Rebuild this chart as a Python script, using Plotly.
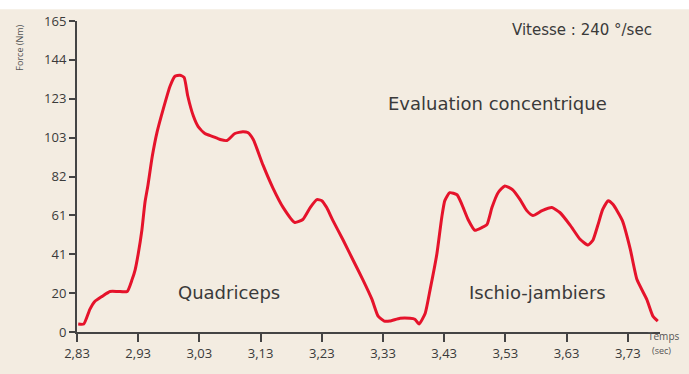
import plotly.graph_objects as go

# Torque trace over time (seconds, N·m)
temps = [2.832, 2.841, 2.851, 2.859, 2.871, 2.884, 2.897, 2.912, 2.920, 2.925,
         2.930, 2.936, 2.941, 2.946, 2.953, 2.961, 2.971, 2.982, 2.990, 2.998,
         3.005, 3.011, 3.020, 3.028, 3.039, 3.052, 3.064, 3.075, 3.088, 3.101,
         3.109, 3.118, 3.134, 3.150, 3.167, 3.186, 3.199, 3.211, 3.222, 3.230,
         3.238, 3.248, 3.265, 3.281, 3.297, 3.312, 3.322, 3.332, 3.341, 3.358,
         3.374, 3.382, 3.389, 3.399, 3.407, 3.418, 3.426, 3.431, 3.439, 3.451,
         3.459, 3.469, 3.480, 3.492, 3.500, 3.508, 3.518, 3.529, 3.542, 3.554,
         3.565, 3.575, 3.590, 3.606, 3.619, 3.636, 3.652, 3.665, 3.673, 3.681,
         3.689, 3.698, 3.706, 3.721, 3.734, 3.745, 3.761, 3.771, 3.779]
force = [4.2, 4.2, 12.0, 16.2, 18.9, 21.5, 21.5, 21.5, 27.8, 33.0,
         41.4, 54.0, 68.6, 78.0, 93.2, 106.3, 118.4, 130.4, 135.7, 136.2,
         135.1, 125.2, 114.7, 109.0, 105.3, 103.7, 102.1, 101.6, 105.3, 106.3,
         105.8, 102.1, 88.5, 76.5, 66.0, 58.1, 59.7, 66.0, 70.2, 69.7,
         66.0, 59.2, 48.7, 38.2, 27.8, 17.3, 8.4, 5.8, 5.8, 7.3,
         7.3, 6.8, 4.2, 10.0, 22.5, 41.4, 60.8, 69.7, 73.9, 72.8,
         67.6, 59.7, 54.0, 55.5, 57.1, 66.0, 73.9, 77.5, 75.4, 70.2,
         64.4, 61.8, 64.4, 66.0, 63.4, 56.6, 49.2, 46.1, 48.7, 56.6,
         65.0, 69.7, 67.6, 59.2, 44.0, 27.8, 17.3, 8.4, 5.8]

x_ticks = [2.83, 2.93, 3.03, 3.13, 3.23, 3.33, 3.43, 3.53, 3.63, 3.73]
x_tick_labels = ["2,83", "2,93", "3,03", "3,13", "3,23",
                 "3,33", "3,43", "3,53", "3,63", "3,73"]
y_tick_labels = ["0", "20", "41", "61", "82", "103", "123", "144", "165"]
y_max = 165

BG = "#f3ece1"
INK = "#3a3a3a"
RED = "#e5132b"
FONT = "Open Sans"
LABEL_FONT = "DejaVu Sans"

W, H = 689, 374
ML, MR, MT, MB = 77, 29, 21, 38
PW, PH = W - ML - MR, H - MT - MB


def px(x):
    return (x - ML) / PW


def py(y):
    return (H - MB - y) / PH


fig = go.Figure()
fig.add_trace(go.Scatter(
    x=temps, y=force, mode="lines",
    line=dict(color=RED, width=3, shape="spline", smoothing=0.5),
    hoverinfo="skip", showlegend=False,
))

y_ticks = [y_max * i / (len(y_tick_labels) - 1) for i in range(len(y_tick_labels))]

fig.update_layout(
    width=W, height=H,
    margin=dict(l=ML, r=MR, t=MT, b=MB, pad=0),
    paper_bgcolor=BG, plot_bgcolor=BG,
    font=dict(family=FONT, color=INK),
    xaxis=dict(
        range=[2.83, 2.83 + 0.1 * PW / 61.2],
        tickvals=x_ticks, ticktext=x_tick_labels,
        showgrid=False, zeroline=False,
        showline=True, linecolor="#444", linewidth=2,
        ticks="outside", ticklen=8, tickwidth=1.5, tickcolor="#444",
        tickfont=dict(size=13, color=INK, family=FONT),
    ),
    yaxis=dict(
        range=[0, y_max],
        tickvals=y_ticks, ticktext=y_tick_labels,
        showgrid=False, zeroline=False,
        showline=True, linecolor="#444", linewidth=2,
        ticks="outside", ticklen=6, tickwidth=1.5, tickcolor="#444",
        tickfont=dict(size=13, color=INK, family=FONT),
    ),
    shapes=[dict(
        type="rect", xref="paper", yref="paper",
        x0=px(-5), x1=px(W + 5), y0=py(9), y1=py(-5),
        fillcolor="white", line=dict(width=0), layer="below",
    )],
)

notes = [
    ("Vitesse : 240 °/sec", 582, 30, 15),
    ("Evaluation concentrique", 497, 105, 18),
    ("Quadriceps", 229, 296, 18),
    ("Ischio-jambiers", 537, 296, 18),
]
for text, x, y, size in notes:
    fig.add_annotation(
        x=px(x), y=py(y), xref="paper", yref="paper", text=text,
        showarrow=False, xanchor="center", yanchor="middle",
        font=dict(size=size, color=INK, family=LABEL_FONT),
    )

fig.add_annotation(
    x=px(646), y=py(340), xref="paper", yref="paper", text="Temps",
    showarrow=False, xanchor="left", yanchor="middle",
    font=dict(size=10, color="#555", family=FONT),
)
fig.add_annotation(
    x=px(650), y=py(355), xref="paper", yref="paper", text="(sec)",
    showarrow=False, xanchor="left", yanchor="middle",
    font=dict(size=9, color="#555", family=FONT),
)
fig.add_annotation(
    x=px(20), y=py(48), xref="paper", yref="paper",
    text="Force (Nm)", textangle=-90,
    showarrow=False, xanchor="center", yanchor="middle",
    font=dict(size=9, color="#555", family=FONT),
)

fig.write_html("out.html")
